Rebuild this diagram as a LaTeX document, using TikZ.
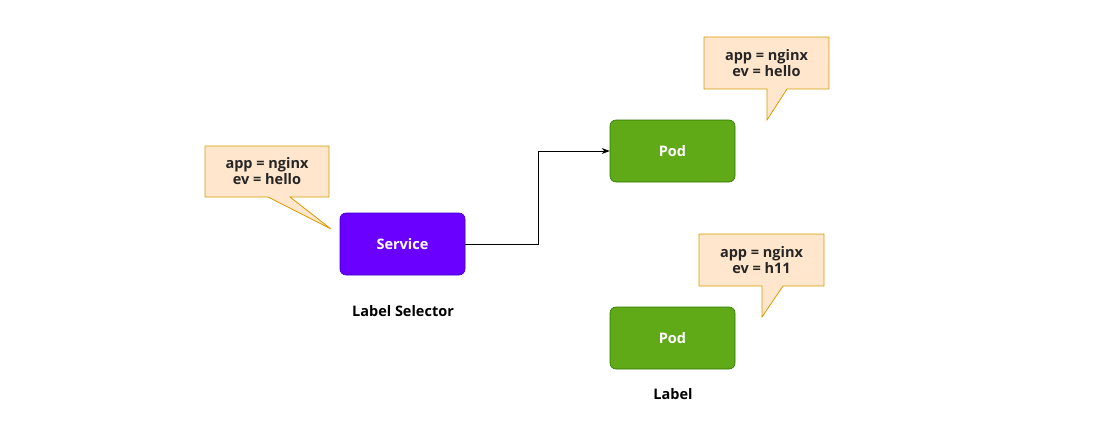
\documentclass[tikz,border=0pt]{standalone}
\usepackage{fontspec}
\setmainfont{Open Sans}
\usetikzlibrary{arrows.meta}
\definecolor{svcfill}{HTML}{6A00FF}
\definecolor{svcline}{HTML}{3700CC}
\definecolor{podfill}{HTML}{60A917}
\definecolor{podline}{HTML}{2D7600}
\definecolor{callfill}{HTML}{FFE6CC}
\definecolor{callline}{HTML}{D79B00}
\tikzset{
  boxnode/.style={rounded corners=6pt, minimum width=125pt, minimum height=62pt, inner sep=0pt, text=white, font=\fontsize{14.5}{17}\selectfont\bfseries},
  svc/.style={boxnode, fill=svcfill, draw=svcline, line width=0.6pt},
  pod/.style={boxnode, fill=podfill, draw=podline, line width=0.6pt},
  callout/.style={fill=callfill, draw=callline, line width=0.8pt},
  calltext/.style={align=center, font=\fontsize{14.5}{16}\selectfont\bfseries, text=black!85},
  plain/.style={font=\fontsize{14.5}{17}\selectfont\bfseries, text=black}
}
\begin{document}
\begin{tikzpicture}[x=1pt,y=-1pt]
\useasboundingbox (0,0) rectangle (1112,436);
% callout 1
\draw[callout] (205,146) -- (329,146) -- (329,197) -- (290,197) -- (331,229) coordinate (c1tip) -- (268,197) -- (205,197) -- cycle;
\node[calltext] (c1) at (267,171.5) {app = nginx\\ev = hello};
% callout 2
\draw[callout] (704,37) -- (829,37) -- (829,89) -- (787,89) -- (767,120) coordinate (c2tip) -- (767,89) -- (704,89) -- cycle;
\node[calltext] (c2) at (766.5,63) {app = nginx\\ev = hello};
% callout 3
\draw[callout] (699,234) -- (824,234) -- (824,286) -- (783,286) -- (762,317) coordinate (c3tip) -- (762,286) -- (699,286) -- cycle;
\node[calltext] (c3) at (761.5,260) {app = nginx\\ev = h11};
% nodes
\node[svc] (svc) at (402.5,244) {Service};
\node[pod] (pod1) at (672.5,151) {Pod};
\node[pod] (pod2) at (672.5,338) {Pod};
\node[plain] (ls) at (403,311) {Label Selector};
\node[plain] (lb) at (673,394) {Label};
% connector
\draw[line width=0.8pt, -{Stealth[length=8pt,width=6pt]}] (svc.east) -- (538,244) |- (pod1.west);
\end{tikzpicture}
\end{document}
